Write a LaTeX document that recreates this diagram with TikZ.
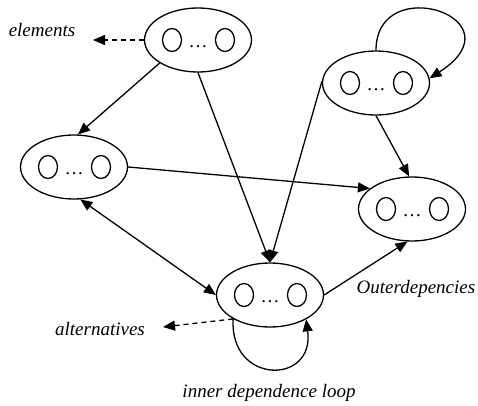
\documentclass[tikz,border=0pt]{standalone}
\usepackage{fontspec}
\setmainfont{Liberation Serif}
\usetikzlibrary{shapes.geometric,arrows.meta}

\begin{document}
\begin{tikzpicture}[x=1pt,y=1pt,line width=1.3pt,
    outer/.style={ellipse,draw,minimum width=107pt,minimum height=64pt,inner sep=0pt,
      font=\fontsize{19}{22}\selectfont,text height=15pt,text depth=0pt},
    inner/.style={ellipse,draw,minimum width=19pt,minimum height=23pt,inner sep=0pt},
    lbl/.style={font=\itshape\fontsize{19}{22}\selectfont,inner sep=0pt,anchor=base},
    arr/.style={-{Triangle[length=12pt,width=10pt]}},
    twoway/.style={{Triangle[length=12pt,width=10pt]}-{Triangle[length=12pt,width=10pt]}},
    dash arr/.style={arr,dash pattern=on 5pt off 4pt}]
                        \useasboundingbox (0,0) rectangle (478,405);

                        % sets of elements
                        \node (a) at (198,365) [outer] {\ldots};
                        \node (a1) at (172,365) [inner] {};
                        \node (a2) at (225,365) [inner] {};
                        \node (b) at (376,322) [outer] {\ldots};
                        \node (b1) at (350,322) [inner] {};
                        \node (b2) at (403,322) [inner] {};
                        \node (c) at (74,238) [outer] {\ldots};
                        \node (c1) at (48,238) [inner] {};
                        \node (c2) at (101,238) [inner] {};
                        \node (d) at (412,196) [outer] {\ldots};
                        \node (d1) at (386,196) [inner] {};
                        \node (d2) at (439,196) [inner] {};
                        \node (e) at (270,110) [outer] {\ldots};
                        \node (e1) at (244,110) [inner] {};
                        \node (e2) at (297,110) [inner] {};

                        % labels
                        \node (elements) at (42,368) [lbl] {elements};
                        \node (alternatives) at (100,70) [lbl] {alternatives};
                        \node (outerdep) at (416,112) [lbl] {Outerdepencies};
                        \node (innerloop) at (269,8) [lbl] {inner dependence loop};
                        \coordinate (elemtip) at (93,365);
                        \coordinate (alttip) at (163,78);

                    \draw [dash arr] (a.west) -- (elemtip);
                    \draw [dash arr] (e.213) -- (alttip);
                        \draw [arr] (a.211) -- (c.83);
                        \draw [arr] (a.south) -- (e.north);
                        \draw [arr] (b.178) -- (e.north);
                        \draw [arr] (b.south) -- (d.95);
                        \draw [arr] (c.east) -- (d.154);
                        \draw [arr] (e.east) -- (d.262);
                        \draw [twoway] (c.281) -- (e.west);
                        \draw [arr] (b.north) .. controls +(0,80) and +(93,60) .. (b.5);
                        \draw [arr] (e.213) .. controls +(-4,-66) and +(9,-66) .. (e.326);

                    \end{tikzpicture}
\end{document}
